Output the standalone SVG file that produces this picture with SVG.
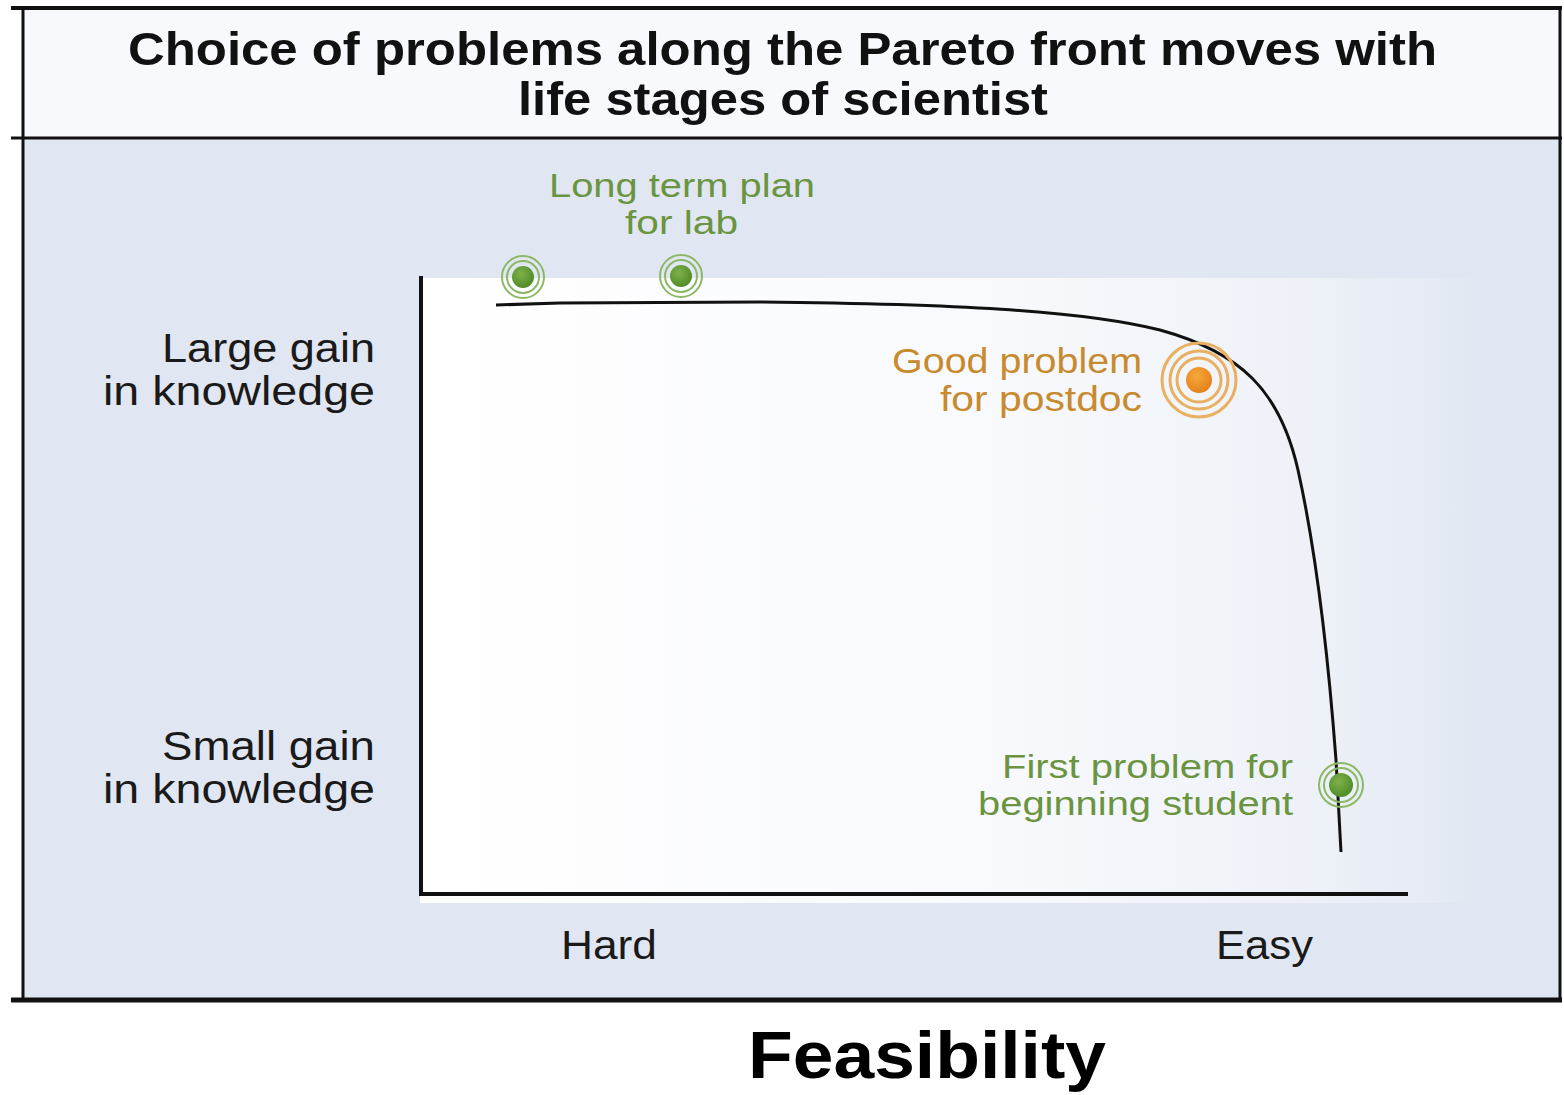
<svg xmlns="http://www.w3.org/2000/svg" width="1564" height="1095" viewBox="0 0 1564 1095">
  <defs>
    <linearGradient id="plotFill" x1="0" y1="0" x2="1" y2="0">
      <stop offset="0" stop-color="#ffffff"/>
      <stop offset="0.5" stop-color="#f9fafd"/>
      <stop offset="0.82" stop-color="#eef2f8"/>
      <stop offset="1" stop-color="#e1e7f2"/>
    </linearGradient>
    <radialGradient id="greenBall" cx="0.4" cy="0.35" r="0.7">
      <stop offset="0" stop-color="#7fb04a"/>
      <stop offset="1" stop-color="#4d8a25"/>
    </radialGradient>
    <radialGradient id="orangeBall" cx="0.4" cy="0.35" r="0.7">
      <stop offset="0" stop-color="#f7a83a"/>
      <stop offset="1" stop-color="#e2801a"/>
    </radialGradient>
  </defs>
  <style>
    text { font-family: "Liberation Sans", Arial, sans-serif; }
    .title { font-weight: bold; font-size: 46px; fill: #111; }
    .axis-label { font-size: 40px; fill: #1a1a1a; }
    .green-label { font-size: 34px; fill: #6a9440; }
    .orange-label { font-size: 35px; fill: #c88a2e; }
    .frame { fill: none; stroke: #111; }
    .axis { stroke: #111; stroke-width: 4; fill: none; }
    .front { stroke: #111; stroke-width: 3; fill: none; }
    .ring-g { fill: none; stroke: #8cb866; stroke-width: 2; }
    .ring-o { fill: none; stroke: #e8b060; stroke-width: 3; }
  </style>

  <!-- page -->
  <rect x="0" y="0" width="1564" height="1095" fill="#ffffff"/>

  <!-- header and body panels -->
  <rect x="22" y="8" width="1539" height="130" fill="#f7f9fc"/>
  <rect x="22" y="139" width="1539" height="861" fill="#e1e7f2"/>
  <rect x="420" y="278" width="1070" height="625" fill="url(#plotFill)"/>

  <!-- frame -->
  <g id="frame">
    <line class="frame" x1="11" y1="8" x2="1562" y2="8" stroke-width="4"/>
    <line class="frame" x1="11" y1="138" x2="1562" y2="138" stroke-width="3"/>
    <line class="frame" x1="11" y1="1000" x2="1562" y2="1000" stroke-width="5"/>
    <line class="frame" x1="23" y1="7" x2="23" y2="1002" stroke-width="3"/>
    <line class="frame" x1="1560" y1="7" x2="1560" y2="1002" stroke-width="3"/>
  </g>

  <!-- title -->
  <g id="title">
    <text class="title" x="128" y="65" textLength="1309" lengthAdjust="spacingAndGlyphs">Choice of problems along the Pareto front moves with</text>
    <text class="title" x="518" y="115" textLength="530" lengthAdjust="spacingAndGlyphs">life stages of scientist</text>
  </g>

  <!-- axes -->
  <g id="axes">
    <line class="axis" x1="421" y1="276" x2="421" y2="896"/>
    <line class="axis" x1="419" y1="894" x2="1408" y2="894"/>
  </g>

  <!-- axis labels -->
  <g id="y-labels">
    <text class="axis-label" x="162" y="362" textLength="213" lengthAdjust="spacingAndGlyphs">Large gain</text>
    <text class="axis-label" x="103" y="405" textLength="272" lengthAdjust="spacingAndGlyphs">in knowledge</text>
    <text class="axis-label" x="162" y="760" textLength="213" lengthAdjust="spacingAndGlyphs">Small gain</text>
    <text class="axis-label" x="103" y="803" textLength="272" lengthAdjust="spacingAndGlyphs">in knowledge</text>
  </g>
  <g id="x-labels">
    <text class="axis-label" x="561" y="959" textLength="96" lengthAdjust="spacingAndGlyphs">Hard</text>
    <text class="axis-label" x="1216" y="959" textLength="97" lengthAdjust="spacingAndGlyphs">Easy</text>
  </g>

  <!-- Pareto front -->
  <g id="connectors">
    <path class="front" d="M496,305 L560,303 L760,302 C950,304 1080,310 1160,330 C1240,352 1280,390 1298,470 C1318,560 1330,680 1336,760 L1341,852"/>
  </g>

  <!-- points on the front -->
  <g id="node-lab-plan-1">
    <circle class="ring-g" cx="523" cy="277" r="21"/>
    <circle class="ring-g" cx="523" cy="277" r="16"/>
    <circle cx="523" cy="277" r="11" fill="url(#greenBall)"/>
  </g>
  <g id="node-lab-plan-2">
    <circle class="ring-g" cx="681" cy="276" r="21"/>
    <circle class="ring-g" cx="681" cy="276" r="16"/>
    <circle cx="681" cy="276" r="11" fill="url(#greenBall)"/>
  </g>
  <g id="node-postdoc">
    <circle class="ring-o" cx="1199" cy="380" r="37"/>
    <circle class="ring-o" cx="1199" cy="380" r="29"/>
    <circle class="ring-o" cx="1199" cy="380" r="22"/>
    <circle cx="1199" cy="380" r="13" fill="url(#orangeBall)"/>
  </g>
  <g id="node-student">
    <circle class="ring-g" cx="1341" cy="785" r="22"/>
    <circle class="ring-g" cx="1341" cy="785" r="17"/>
    <circle cx="1341" cy="785" r="12" fill="url(#greenBall)"/>
  </g>

  <!-- point labels -->
  <g id="label-lab">
    <text class="green-label" x="549" y="197" textLength="266" lengthAdjust="spacingAndGlyphs">Long term plan</text>
    <text class="green-label" x="625" y="234" textLength="113" lengthAdjust="spacingAndGlyphs">for lab</text>
  </g>
  <g id="label-postdoc">
    <text class="orange-label" x="892" y="373" textLength="250" lengthAdjust="spacingAndGlyphs">Good problem</text>
    <text class="orange-label" x="940" y="411" textLength="202" lengthAdjust="spacingAndGlyphs">for postdoc</text>
  </g>
  <g id="label-student">
    <text class="green-label" x="1002" y="778" textLength="291" lengthAdjust="spacingAndGlyphs">First problem for</text>
    <text class="green-label" x="978" y="815" textLength="315" lengthAdjust="spacingAndGlyphs">beginning student</text>
  </g>

  <!-- caption below the chart -->
  <text x="748" y="1078" font-weight="bold" font-size="66" fill="#000" textLength="358" lengthAdjust="spacingAndGlyphs">Feasibility</text>
</svg>
